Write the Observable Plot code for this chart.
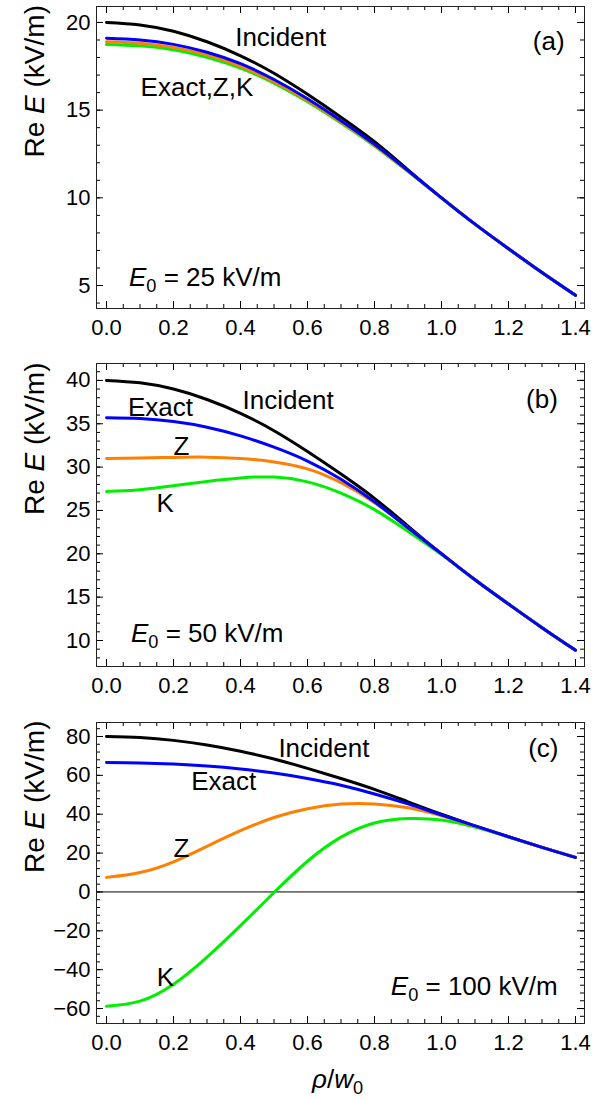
<!DOCTYPE html>
<html>
<head>
<meta charset="utf-8">
<script src="https://cdn.jsdelivr.net/npm/d3@7"></script>
<script src="https://cdn.jsdelivr.net/npm/@observablehq/plot@0.6"></script>
<style>
  html, body { margin: 0; padding: 0; background: #fff; }
  #chart { width: 611px; }
  #chart svg { display: block; }
  #chart g[aria-label$="tick label"] { font-size: 22px !important; }
  #chart g[aria-label$="tick label"] text { font-size: 22px !important; }
</style>
</head>
<body>
<div id="chart"></div>
<script>
// ---- data ----
const rho = [0, 0.1, 0.2, 0.3, 0.4, 0.5, 0.6, 0.7, 0.8, 0.9, 1.0, 1.1, 1.2, 1.3, 1.4];

// panel (a): E0 = 25 kV/m
const aIncident = [20.0, 19.86, 19.5, 18.9, 18.1, 17.1, 15.9, 14.6, 13.2, 11.6, 10.0, 8.5, 7.1, 5.74, 4.44];
const aExact    = [19.1, 19.0, 18.75, 18.3, 17.65, 16.75, 15.65, 14.4, 13.05, 11.55, 10.0, 8.5, 7.1, 5.74, 4.44];
const aZ        = [18.9, 18.82, 18.58, 18.15, 17.5, 16.62, 15.55, 14.32, 13.0, 11.52, 10.0, 8.5, 7.1, 5.74, 4.44];
const aK        = [18.75, 18.67, 18.44, 18.02, 17.4, 16.54, 15.48, 14.27, 12.96, 11.5, 10.0, 8.5, 7.1, 5.74, 4.44];

// panel (b): E0 = 50 kV/m
const bIncident = [40.0, 39.72, 39.0, 37.8, 36.2, 34.2, 31.8, 29.2, 26.4, 23.2, 20.0, 17.0, 14.2, 11.48, 8.88];
const bExact    = [35.7, 35.6, 35.25, 34.6, 33.6, 32.3, 30.7, 28.6, 26.0, 23.0, 20.0, 17.0, 14.2, 11.48, 8.88];
const bZ        = [31.0, 31.05, 31.12, 31.15, 31.0, 30.6, 29.8, 28.2, 25.9, 23.0, 20.0, 17.0, 14.2, 11.48, 8.88];
const bK        = [27.2, 27.4, 27.85, 28.35, 28.75, 28.85, 28.3, 27.0, 25.1, 22.6, 19.9, 17.0, 14.2, 11.48, 8.88];

// panel (c): E0 = 100 kV/m
const cIncident = [80.0, 79.44, 78.0, 75.6, 72.4, 68.4, 63.6, 58.4, 52.8, 46.4, 40.0, 34.0, 28.4, 22.96, 17.76];
const cExact    = [66.6, 66.4, 65.8, 64.8, 63.3, 61.2, 58.4, 54.9, 50.4, 45.3, 39.6, 34.0, 28.4, 22.96, 17.76];
const cZ        = [7.5, 10.0, 15.5, 23.5, 31.5, 38.3, 42.8, 45.2, 45.3, 43.3, 39.2, 33.9, 28.4, 22.96, 17.76];
const cK        = [-58.8, -56.2, -47.5, -33.5, -17.3, -0.3, 15.8, 28.2, 35.5, 37.8, 37.0, 33.4, 28.3, 22.96, 17.76];

// tick values
const xMajor = [0, 0.2, 0.4, 0.6, 0.8, 1.0, 1.2, 1.4];
const xMinor = d3.range(0, 1.4001, 0.05);
const aYMajor = [5, 10, 15, 20];
const bYMajor = [10, 15, 20, 25, 30, 35, 40];
const cYMajor = [-60, -40, -20, 0, 20, 40, 60, 80];

// series names / colours
const seriesNames = ["Incident", "K", "Z", "Exact"];
const seriesColors = ["#000000", "#00ee00", "#ff8000", "#0000ff"];

// annotations (text, x, y, anchor)
const aLabels = [
  {text: "Incident", x: 0.52, y: 19.15, anchor: "middle"},
  {text: "Exact,Z,K", x: 0.27, y: 16.3, anchor: "middle"},
  {text: "(a)", x: 1.32, y: 18.9, anchor: "middle"},
  {text: "{E}_0 = 25 kV/m", x: 0.067, y: 5.45, anchor: "start"}
];
const bLabels = [
  {text: "Incident", x: 0.542, y: 37.7, anchor: "middle"},
  {text: "Exact", x: 0.161, y: 36.9, anchor: "middle"},
  {text: "(b)", x: 1.30, y: 37.8, anchor: "middle"},
  {text: "Z", x: 0.224, y: 32.3, anchor: "middle"},
  {text: "K", x: 0.175, y: 25.75, anchor: "middle"},
  {text: "{E}_0 = 50 kV/m", x: 0.073, y: 10.8, anchor: "start"}
];
const cLabels = [
  {text: "Incident", x: 0.649, y: 73.7, anchor: "middle"},
  {text: "(c)", x: 1.304, y: 73.7, anchor: "middle"},
  {text: "Exact", x: 0.35, y: 56.5, anchor: "middle"},
  {text: "Z", x: 0.224, y: 22.4, anchor: "middle"},
  {text: "K", x: 0.176, y: -43.9, anchor: "middle"},
  {text: "{E}_0 = 100 kV/m", x: 1.347, y: -49, anchor: "end"}
];

// ---- drawing ----
const W = 611, ML = 96, MR = 27;
const FONT = "'Liberation Sans', Arial, Helvetica, sans-serif";

function rows(series) {
  const out = [];
  series.forEach((vals, si) => vals.forEach((v, i) => out.push({rho: rho[i], E: v, s: seriesNames[si]})));
  return out;
}

function panel({series, yDomain, yMajor, yMinorStep, height, mt, mb, labels, zero = false, xLabel = false}) {
  const H = height - mt - mb;
  const FW = W - ML - MR;
  const yMinor = d3.range(Math.ceil(yDomain[0] / yMinorStep) * yMinorStep, yDomain[1], yMinorStep);
  const data = rows(series);
  const tk = (len) => ({
    bx: {insetTop: H - len}, tx: {insetBottom: H - len},
    ly: {insetRight: FW - len}, ry: {insetLeft: FW - len}
  });
  const T7 = tk(7), T4 = tk(4);
  const tick = {stroke: "black", strokeWidth: 1};
  const marks = [
    Plot.tickX(xMajor, {x: d => d, ...T7.bx, ...tick}),
    Plot.tickX(xMajor, {x: d => d, ...T7.tx, ...tick}),
    Plot.tickX(xMinor, {x: d => d, ...T4.bx, ...tick}),
    Plot.tickX(xMinor, {x: d => d, ...T4.tx, ...tick}),
    Plot.tickY(yMajor, {y: d => d, ...T7.ly, ...tick}),
    Plot.tickY(yMajor, {y: d => d, ...T7.ry, ...tick}),
    Plot.tickY(yMinor, {y: d => d, ...T4.ly, ...tick}),
    Plot.tickY(yMinor, {y: d => d, ...T4.ry, ...tick}),
    Plot.axisX({ticks: xMajor, tickSize: 0, tickPadding: 11, tickFormat: d3.format(".1f"), label: null}),
    Plot.axisY({ticks: yMajor, tickSize: 0, tickPadding: 6, tickFormat: d => d < 0 ? "\u2212" + Math.abs(d) : String(d), label: null}),
  ];
  if (zero) marks.push(Plot.ruleY([0], {stroke: "black", strokeWidth: 1}));
  marks.push(
    Plot.line(data, {x: "rho", y: "E", z: "s", stroke: "s", strokeWidth: 3, curve: "natural"}),
    Plot.frame({stroke: "#222", strokeWidth: 1})
  );
  for (const anchor of ["start", "middle", "end"]) {
    marks.push(Plot.text(labels.filter(d => d.anchor === anchor), {x: "x", y: "y", text: "text", textAnchor: anchor, fontSize: 26, fill: "black"}));
  }
  marks.push(Plot.text(["Re {E} (kV/m)"], {frameAnchor: "left", dx: -61, rotate: -90, text: d => d, fontSize: 28, fill: "black"}));
  if (xLabel) marks.push(Plot.text(["{ρ}/{w}_0"], {frameAnchor: "bottom", dx: -3, dy: 64, text: d => d, fontSize: 26, fill: "black"}));
  const svg = Plot.plot({
    width: W, height,
    marginLeft: ML, marginRight: MR, marginTop: mt, marginBottom: mb,
    style: {fontFamily: FONT, fontSize: "22px", background: "white", color: "black"},
    x: {domain: [-0.0299, 1.4269]},
    y: {domain: yDomain},
    color: {domain: seriesNames, range: seriesColors},
    marks
  });
  richText(svg);
  return svg;
}

function richText(svg) {
  const NS = "http://www.w3.org/2000/svg";
  svg.querySelectorAll("text").forEach(el => {
    const s = el.textContent;
    if (!/[{_]/.test(s)) return;
    el.textContent = "";
    const re = /\{([^}]*)\}|_(\w)|([^{_]+)/g;
    let m, sub = false;
    while ((m = re.exec(s))) {
      const t = document.createElementNS(NS, "tspan");
      if (m[2] !== undefined) {
        t.setAttribute("font-size", "70%");
        t.setAttribute("dy", "6");
        t.textContent = m[2];
        sub = true;
      } else {
        if (sub) { t.setAttribute("dy", "-6"); sub = false; }
        if (m[1] !== undefined) { t.setAttribute("font-style", "italic"); t.textContent = m[1]; }
        else t.textContent = m[3];
      }
      el.appendChild(t);
    }
  });
}

const chart = document.getElementById("chart");
chart.appendChild(panel({
  series: [aIncident, aK, aZ, aExact], yDomain: [3.69, 20.91], yMajor: aYMajor, yMinorStep: 1,
  height: 345, mt: 6, mb: 37, labels: aLabels
}));
chart.appendChild(panel({
  series: [bIncident, bK, bZ, bExact], yDomain: [7.0, 41.95], yMajor: bYMajor, yMinorStep: 1,
  height: 355, mt: 18, mb: 34, labels: bLabels
}));
chart.appendChild(panel({
  series: [cIncident, cK, cZ, cExact], yDomain: [-67.7, 87.2], yMajor: cYMajor, yMinorStep: 4,
  height: 400, mt: 22, mb: 77, labels: cLabels, zero: true, xLabel: true
}));
</script>
</body>
</html>
